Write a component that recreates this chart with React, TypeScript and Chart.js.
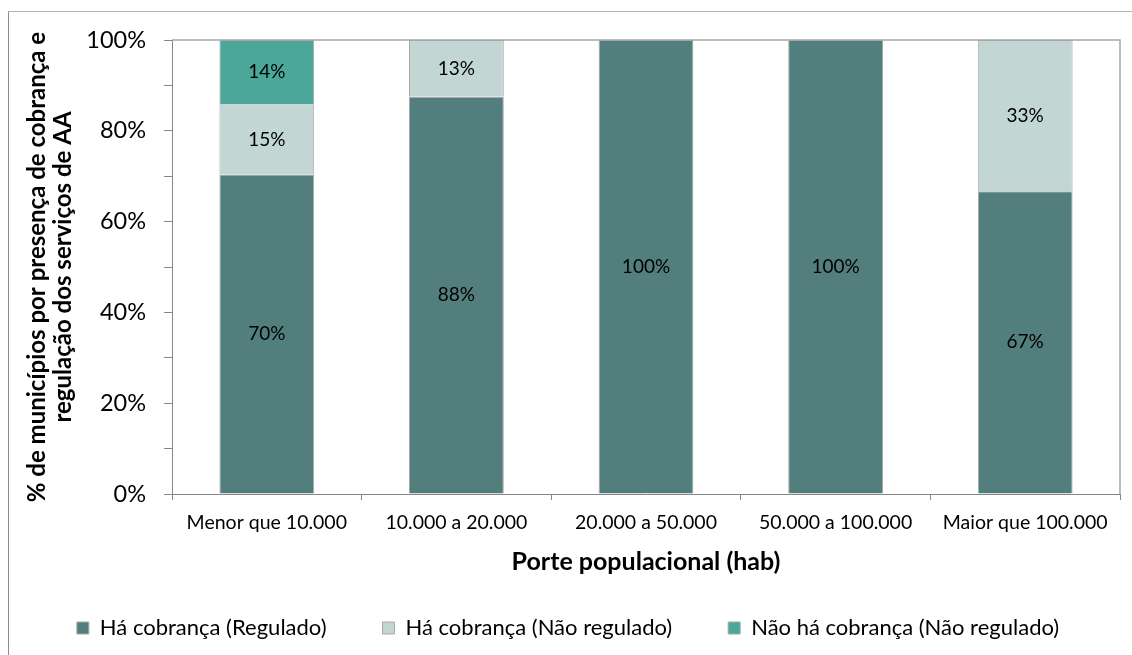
import React, { useEffect, useRef } from 'react';
import { Chart, registerables } from 'chart.js';

Chart.register(...registerables);

const categories = ['Menor que 10.000', '10.000 a 20.000', '20.000 a 50.000', '50.000 a 100.000', 'Maior que 100.000'];
const regulado = [70.4, 87.5, 100, 100, 66.7];
const naoRegulado = [15.4, 12.5, 0, 0, 33.3];
const naoHaCobranca = [14.2, 0, 0, 0, 0];
const seriesNames = ['Há cobrança (Regulado)', 'Há cobrança (Não regulado)', 'Não há cobrança (Não regulado)'];
const seriesColors = ['#527F7D', '#C2D6D4', '#4BA79A'];
const yTitle = ['% de municípios por presença de cobrança e', 'regulação dos serviços de AA'];
const xTitle = 'Porte populacional (hab)';
const FONT = 'Lato';

const dataLabelPlugin = {
  id: 'dataLabels',
  afterDatasetsDraw(chart: any) {
    const ctx = chart.ctx;
    ctx.save();
    ctx.font = `19px ${FONT}`;
    ctx.fillStyle = '#000';
    ctx.textAlign = 'center';
    ctx.textBaseline = 'middle';
    chart.data.datasets.forEach((ds: any, i: number) => {
      const meta = chart.getDatasetMeta(i);
      meta.data.forEach((bar: any, j: number) => {
        const v = ds.data[j];
        if (v == null || v === 0) return;
        const p = bar.getProps(['x', 'y', 'base'], true);
        ctx.fillText(Math.round(v) + '%', p.x, (p.y + p.base) / 2);
      });
    });
    ctx.restore();
  },
};

const framePlugin = {
  id: 'frame',
  afterDatasetsDraw(chart: any) {
    const { ctx, chartArea } = chart;
    const { left, top, right } = chartArea;
    ctx.save();
    ctx.strokeStyle = '#A6A6A6';
    ctx.lineWidth = 1.5;
    ctx.beginPath();
    ctx.moveTo(left, top);
    ctx.lineTo(right, top);
    ctx.lineTo(right, chartArea.bottom);
    ctx.stroke();
    ctx.restore();
  },
};

export default function App() {
  const ref = useRef<HTMLCanvasElement | null>(null);
  useEffect(() => {
    if (!ref.current) return;
    const toNull = (a: number[]) => a.map((v) => (v === 0 ? null : v));
    const chart = new Chart(ref.current, {
      type: 'bar',
      data: {
        labels: categories,
        datasets: [regulado, naoRegulado, naoHaCobranca].map((d, i) => ({
          label: seriesNames[i],
          data: toNull(d),
          backgroundColor: seriesColors[i],
          borderColor: '#A9A9A9',
          borderWidth: 1,
          barPercentage: 0.5,
          categoryPercentage: 1,
        })),
      },
      options: {
        responsive: false,
        animation: false,
        devicePixelRatio: 1,
        layout: { padding: { left: 16, top: 40, right: 12, bottom: 6 } },
        plugins: {
          tooltip: { enabled: false },
          legend: {
            position: 'bottom',
            labels: {
              boxWidth: 12,
              boxHeight: 12,
              padding: 56,
              color: '#000',
              font: { family: FONT, size: 22 },
            },
          },
        },
        scales: {
          x: {
            stacked: true,
            grid: { display: true, drawOnChartArea: false, drawTicks: true, tickLength: 6, color: '#868686', offset: true },
            border: { display: true, color: '#868686', width: 1 },
            ticks: { font: { family: FONT, size: 19.5 }, color: '#000', padding: 11, maxRotation: 0, autoSkip: false },
            title: {
              display: true,
              text: xTitle,
              color: '#000',
              font: { family: FONT, size: 25, weight: 'bold' },
              padding: { top: 0, bottom: -16 },
            },
            afterFit: (s: any) => {
              s.height = 67;
            },
          },
          y: {
            stacked: true,
            min: 0,
            max: 100,
            grid: { drawOnChartArea: false, drawTicks: true, tickLength: 8, color: '#868686' },
            border: { display: true, color: '#868686', width: 1 },
            ticks: {
              stepSize: 10,
              autoSkip: false,
              color: '#000',
              padding: 18,
              font: { family: FONT, size: 23.5 },
              callback: (v: any) => (Number(v) % 20 === 0 ? v + '%' : ''),
            },
            title: {
              display: true,
              text: yTitle,
              color: '#000',
              font: { family: FONT, size: 24, weight: 'bold', lineHeight: 1.1 },
              padding: { top: 7.8, bottom: 0 },
            },
            afterFit: (s: any) => {
              s.width = 156;
            },
          },
        },
      },
      plugins: [framePlugin, dataLabelPlugin],
    } as any);
    return () => chart.destroy();
  }, []);

  return (
    <div style={{ position: 'fixed', left: 0, top: 0, width: 1132, height: 655, background: '#fff' }}>
      <div
        style={{
          position: 'absolute',
          left: 8,
          top: 11,
          right: -2,
          bottom: -2,
          borderLeft: '1px solid #8C8C8C',
          borderTop: '1px solid #B4B4B4',
        }}
      />
      <canvas ref={ref} width={1132} height={655} style={{ position: 'absolute', left: 0, top: 0 }} />
    </div>
  );
}
